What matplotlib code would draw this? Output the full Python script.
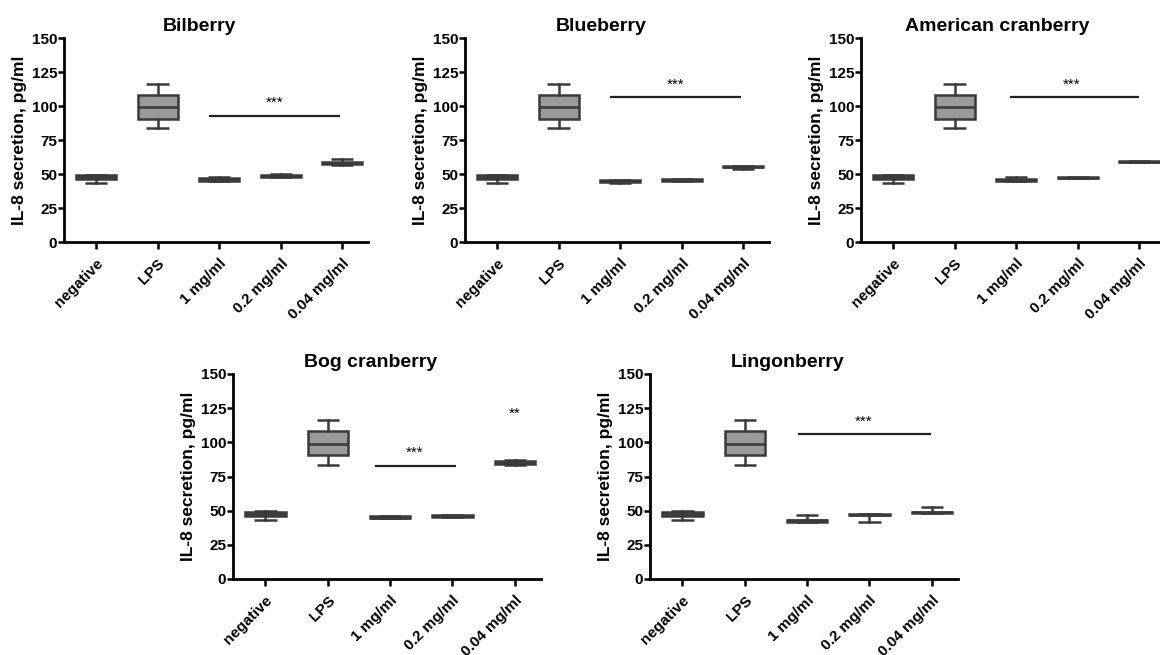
import matplotlib
matplotlib.use('Agg')
import matplotlib.pyplot as plt

plt.rcParams['font.family'] = ['Liberation Sans', 'DejaVu Sans']
plt.rcParams['font.weight'] = 'bold'

groups = ['negative', 'LPS', '1 mg/ml', '0.2 mg/ml', '0.04 mg/ml']
titles = ['Bilberry', 'Blueberry', 'American cranberry', 'Bog cranberry', 'Lingonberry']

# box stats per group: (whislo, q1, med, q3, whishi)
neg = (43.5, 46, 47.5, 49, 49.5)
lps = (83.5, 90.5, 99, 108, 116)

bilberry = [neg, lps, (44.5, 44.8, 46, 47, 47.5), (47.5, 47.8, 48.5, 49.5, 49.8), (56.5, 57, 58, 59, 61)]
blueberry = [neg, lps, (43.5, 43.8, 44.5, 45.3, 45.5), (45, 45.2, 45.5, 46, 46), (53.5, 54.8, 55.5, 55.7, 55.8)]
am_cranberry = [neg, lps, (45, 45.2, 45.5, 46, 47.5), (47, 47.1, 47.3, 47.5, 47.5), (58.5, 58.6, 59, 59.4, 59.5)]
bog_cranberry = [neg, lps, (44.5, 44.6, 45, 46, 46), (45.5, 45.6, 46, 46.6, 46.8), (83.5, 83.8, 85, 86.7, 87)]
lingonberry = [neg, lps, (41.5, 42, 43, 43.5, 47), (41.5, 46.5, 46.5, 47.3, 47.5), (48.5, 48.6, 49, 49.2, 53)]
all_data = [bilberry, blueberry, am_cranberry, bog_cranberry, lingonberry]

# significance bars: (x start, x end, y of line, label, label x, label y)
sig = [
    [(1.84, 3.97, 93, '***', 2.9, 102)],
    [(1.84, 3.97, 106.4, '***', 2.9, 115.5)],
    [(1.9, 4.0, 106.4, '***', 2.9, 115.5)],
    [(1.75, 3.06, 82.7, '***', 2.4, 92), (None, None, None, '**', 4.0, 121)],
    [(1.85, 3.98, 106.3, '***', 2.9, 115)],
]

W, H = 1160, 655
ax_px = [(64, 38, 304, 204), (465, 38, 304, 204), (861, 38, 304, 204),
         (233, 374, 308, 205), (650, 374, 308, 205)]

fig = plt.figure(figsize=(11.6, 6.55), dpi=100)
for i in range(5):
    x0, y0, w, h = ax_px[i]
    ax = fig.add_axes([x0 / W, 1 - (y0 + h) / H, w / W, h / H])
    stats = []
    for s in all_data[i]:
        stats.append({'whislo': s[0], 'q1': s[1], 'med': s[2], 'q3': s[3], 'whishi': s[4], 'fliers': []})
    ax.bxp(stats, positions=range(5), widths=0.65, patch_artist=True, showfliers=False,
           boxprops=dict(facecolor='#9a9a9a', edgecolor='#3a3a3a', linewidth=1.8),
           medianprops=dict(color='#3a3a3a', linewidth=1.8),
           whiskerprops=dict(color='#3a3a3a', linewidth=1.8),
           capprops=dict(color='#3a3a3a', linewidth=1.8, solid_capstyle='butt'),
           capwidths=0.36)
    for x1, x2, yl, lab, tx, ty in sig[i]:
        if x1 is not None:
            ax.plot([x1, x2], [yl, yl], color='#222222', lw=1.6, solid_capstyle='butt')
        ax.text(tx, ty, lab, ha='center', va='center', fontsize=11, fontweight='normal')
    ax.set_xlim(-0.52, 4.42)
    ax.set_ylim(0, 150)
    ax.set_yticks([0, 25, 50, 75, 100, 125, 150])
    ax.set_xticks(range(5))
    ax.set_xticklabels(groups, rotation=45, ha='right', rotation_mode='anchor', fontsize=11, fontweight='bold')
    ax.tick_params(axis='y', labelsize=11, width=1.8, length=4, pad=1)
    ax.tick_params(axis='x', width=1.8, length=5, pad=5)
    for lbl in ax.get_yticklabels():
        lbl.set_fontweight('bold')
    ax.spines['top'].set_visible(False)
    ax.spines['right'].set_visible(False)
    ax.spines['left'].set_linewidth(2)
    ax.spines['bottom'].set_linewidth(2)
    ax.set_ylabel('IL-8 secretion, pg/ml', fontsize=12.5, fontweight='bold', labelpad=3)
    # title sits a bit left of the axes centre, as in the original
    ax.set_title(titles[i], fontsize=14, fontweight='bold', pad=5, x=0.5 - 16 / w)

fig.savefig('out.png', dpi=100)
